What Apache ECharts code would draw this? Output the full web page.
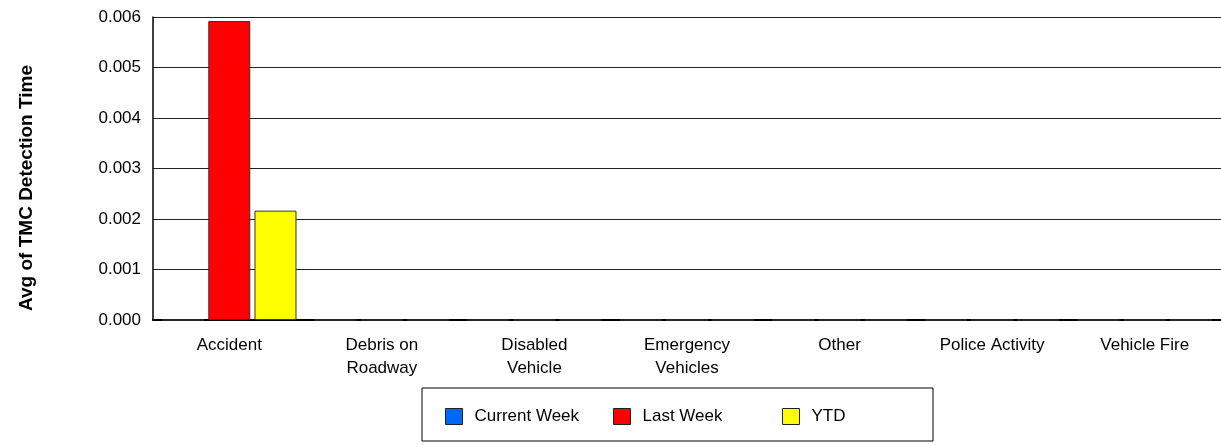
<!DOCTYPE html>
<html><head><meta charset="utf-8">
<script src="https://cdn.jsdelivr.net/npm/echarts@6/dist/echarts.min.js"></script>
<style>html,body{margin:0;padding:0;background:#fff}#c{width:1221px;height:445px}</style>
</head><body><div id="c"></div>
<script>
const categories = ['Accident','Debris on\nRoadway','Disabled\nVehicle','Emergency\nVehicles','Other','Police Activity','Vehicle Fire'];
const currentWeek = [0,0,0,0,0,0,0];
const lastWeek = [0.00592,0,0,0,0,0,0];
const ytd = [0.002165,0,0,0,0,0,0];
const yTicks = {min:0,max:0.006,interval:0.001};
const yTitle = 'Avg of TMC Detection Time';
const font = 'Arial, "Liberation Sans", sans-serif';
const chart = echarts.init(document.getElementById('c'));
const leg = (name, left) => ({data:[name], left:left, top:403, itemWidth:17, itemHeight:16, itemGap:0,
  itemStyle:{borderColor:'#222',borderWidth:1},
  textStyle:{fontFamily:font,fontSize:17,color:'#000',padding:[0,0,0,7]}, icon:'rect', selectedMode:false});
chart.setOption({
  animation:false,
  grid:{left:153,right:0,top:17,bottom:125,containLabel:false},
  graphic:[
    {type:'rect',shape:{x:422,y:388,width:511,height:53},style:{fill:'#fff',stroke:'#000',lineWidth:1},z:-1},
    {type:'text',x:27,y:188,rotation:Math.PI/2,style:{text:yTitle,fontFamily:font,fontSize:19,fontWeight:'bold',fill:'#000',align:'center',verticalAlign:'middle'}}
  ],
  legend:[leg('Current Week',440),leg('Last Week',608),leg('YTD',777)],
  xAxis:{type:'category',data:categories,
    axisLine:{lineStyle:{color:'#000',width:2}},axisTick:{show:false},
    axisLabel:{fontFamily:font,fontSize:17,color:'#000',margin:14,lineHeight:23,interval:0}},
  yAxis:{type:'value',min:yTicks.min,max:yTicks.max,interval:yTicks.interval,
    axisLine:{show:true,lineStyle:{color:'#000',width:1.5}},axisTick:{show:false},
    axisLabel:{fontFamily:font,fontSize:17,color:'#000',margin:12,formatter:v=>v.toFixed(3)},
    splitLine:{lineStyle:{color:'#222',width:1}}},
  series:[
    {name:'Current Week',type:'bar',data:currentWeek,barWidth:42,barGap:'10%',itemStyle:{color:'#0066ff',borderColor:'#333',borderWidth:1}},
    {name:'Last Week',type:'bar',data:lastWeek,barWidth:42,barGap:'10%',itemStyle:{color:'#ff0000',borderColor:'#333',borderWidth:1}},
    {name:'YTD',type:'bar',data:ytd,barWidth:42,barGap:'10%',itemStyle:{color:'#ffff00',borderColor:'#333',borderWidth:1}}
  ]
});
</script></body></html>
